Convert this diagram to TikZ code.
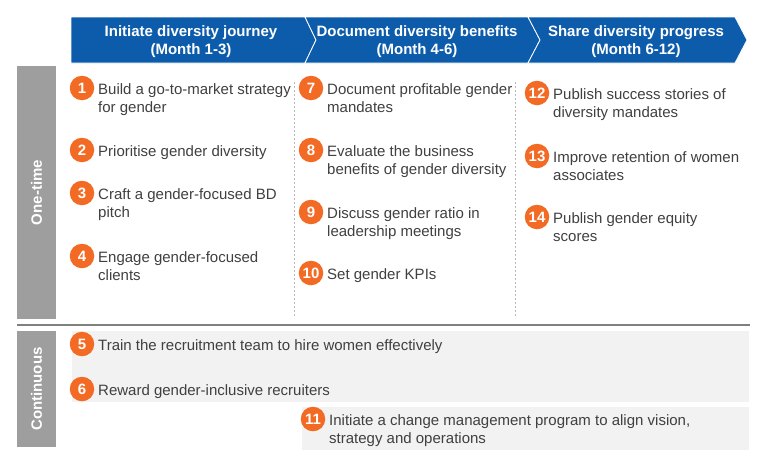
\documentclass[tikz,border=0pt]{standalone}
\usepackage{fontspec}
\setmainfont{Liberation Sans}
\definecolor{hdrblue}{RGB}{12,92,171}
\definecolor{numorange}{RGB}{242,106,35}
\definecolor{bargray}{RGB}{158,158,158}
\definecolor{txtgray}{RGB}{64,64,64}
\definecolor{boxgray}{RGB}{242,242,242}
\definecolor{dashgray}{RGB}{185,185,185}
\definecolor{sepgray}{RGB}{128,128,128}
\newcommand{\myitem}[5]{%
  \node[num] (c#1) at (#3,#4) {#2};
  \node[itemtext] (t#1) at ({#3+16},{#4-6.7}) {#5};}
\begin{document}
\begin{tikzpicture}[x=1pt,y=-1pt,
 hdr/.style={fill=hdrblue,draw=white,line width=0.8pt,line join=miter},
 hdrtext/.style={anchor=north,inner sep=0pt,align=center,text=white,font=\fontsize{15}{18}\selectfont\bfseries},
 num/.style={circle,fill=numorange,text=white,inner sep=0pt,minimum size=24.5pt,font=\fontsize{15}{16}\selectfont\bfseries},
 itemtext/.style={anchor=north west,inner sep=0pt,align=left,text=txtgray,font=\fontsize{15}{18}\selectfont},
 sidebar/.style={fill=bargray},
 sidetext/.style={rotate=90,inner sep=0pt,text=white,font=\fontsize{15}{18}\selectfont\bfseries},
 contbox/.style={fill=boxgray},
 coldiv/.style={draw=dashgray,dash pattern=on 2pt off 2pt,line width=0.7pt}
]
\useasboundingbox[fill=white] (0,0) rectangle (768,461);
% header chevrons
\draw[hdr] (71,17) -- (305,17) -- (316,40) -- (305,63) -- (71,63) -- cycle;
\draw[hdr] (305,17) -- (528,17) -- (540,40) -- (528,63) -- (305,63) -- (316,40) -- cycle;
\draw[hdr] (528,17) -- (735,17) -- (747,40) -- (735,63) -- (528,63) -- (540,40) -- cycle;
\node[hdrtext] (h1) at (191,24) {\strut Initiate diversity journey\\\strut (Month 1-3)};
\node[hdrtext] (h2) at (417,24) {\strut Document diversity benefits\\\strut (Month 4-6)};
\node[hdrtext] (h3) at (636,24) {\strut Share diversity progress\\\strut (Month 6-12)};
% side bars
\fill[sidebar] (17,66) rectangle (56,319);
\fill[sidebar] (17,331) rectangle (56,447);
\node[sidetext] (s1) at (36.5,192.5) {One-time};
\node[sidetext] (s2) at (36.5,389) {Continuous};
% separator
\draw[sepgray,line width=2pt] (17,325) -- (750,325);
% column dividers
\coordinate (d1a) at (294,82); \coordinate (d1b) at (294,316);
\coordinate (d2a) at (515.5,82); \coordinate (d2b) at (515.5,316);
\draw[coldiv] (d1a) -- (d1b);
\draw[coldiv] (d2a) -- (d2b);
% continuous boxes
\fill[contbox] (72,331) rectangle (749,402);
\fill[contbox] (302,407) rectangle (749,450);
% items
\myitem{1}{1}{82}{88}{\strut Build a go-to-market strategy\\\strut for gender}
\myitem{2}{2}{82}{150}{\strut Prioritise gender diversity}
\myitem{3}{3}{82}{193}{\strut Craft a gender-focused BD\\\strut pitch}
\myitem{4}{4}{82}{256}{\strut Engage gender-focused\\\strut clients}
\myitem{7}{7}{311}{88}{\strut Document profitable gender\\\strut mandates}
\myitem{8}{8}{311}{150}{\strut Evaluate the business\\\strut benefits of gender diversity}
\myitem{9}{9}{311}{212}{\strut Discuss gender ratio in\\\strut leadership meetings}
\myitem{10}{10}{311}{273}{\strut Set gender KPIs}
\myitem{12}{12}{537}{93}{\strut Publish success stories of\\\strut diversity mandates}
\myitem{13}{13}{537}{156}{\strut Improve retention of women\\\strut associates}
\myitem{14}{14}{537}{217}{\strut Publish gender equity\\\strut scores}
\myitem{5}{5}{82}{344}{\strut Train the recruitment team to hire women effectively}
\myitem{6}{6}{82}{389}{\strut Reward gender-inclusive recruiters}
\myitem{11}{11}{313}{419}{\strut Initiate a change management program to align vision,\\\strut strategy and operations}
\end{tikzpicture}
\end{document}
